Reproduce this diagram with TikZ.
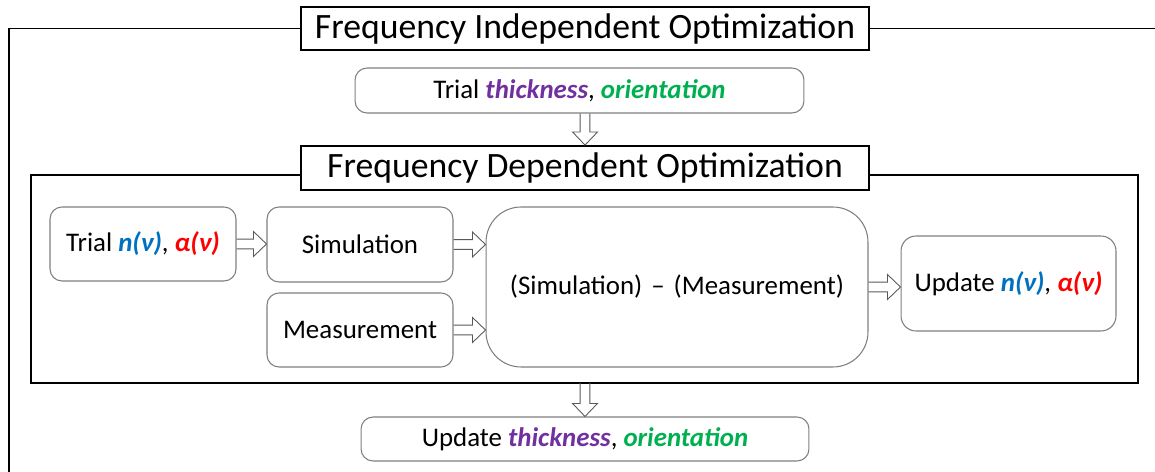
\documentclass[tikz,border=0pt]{standalone}
\usepackage{fontspec}
\setmainfont{Carlito}
\usepackage{xcolor}
\usepackage{tikz}
\usetikzlibrary{calc}

\definecolor{thickcol}{HTML}{7030A0}
\definecolor{oricol}{HTML}{00B050}
\definecolor{ncol}{HTML}{0070C0}
\definecolor{acol}{HTML}{FF0000}
\definecolor{boxgray}{HTML}{7F7F7F}

\newcommand{\thk}{\textcolor{thickcol}{\textbf{\textit{thickness}}}}
\newcommand{\ori}{\textcolor{oricol}{\textbf{\textit{orientation}}}}
\newcommand{\nnu}{\textcolor{ncol}{\textbf{\textit{n(ν)}}}}
\newcommand{\anu}{\textcolor{acol}{\textbf{\textit{α(ν)}}}}

% hollow block arrow from #1 to #2
\newcommand{\fatarrow}[2]{%
  \coordinate (fa-s) at (#1);
  \coordinate (fa-e) at (#2);
  \coordinate (fa-b) at ($(fa-e)!7.4pt!(fa-s)$);
  \draw[hollow] ($(fa-s)!2.8pt!90:(fa-e)$) -- ($(fa-b)!2.8pt!-90:(fa-s)$)
    -- ($(fa-b)!7.1pt!-90:(fa-s)$) -- (fa-e) -- ($(fa-b)!7.1pt!90:(fa-s)$)
    -- ($(fa-b)!2.8pt!90:(fa-s)$) -- ($(fa-s)!2.8pt!-90:(fa-e)$);}

\tikzset{
  title/.style={draw, line width=1.1pt, fill=white, inner sep=0pt, font=\fontsize{20.3}{24}\selectfont},
  stepbox/.style={draw=boxgray, line width=0.6pt, rounded corners=0.24cm, inner sep=0pt, align=center, font=\fontsize{15.3}{18}\selectfont},
  hollow/.style={draw=black!65, line width=0.5pt, line join=miter},
  frame/.style={line width=1.1pt}
}

\begin{document}
\begin{tikzpicture}[x=0.02cm, y=-0.02cm]
    \useasboundingbox (0,0) rectangle (1155,472);

    % outer loop
    \coordinate (out-tl) at (9,28.5);
    \coordinate (out-bl) at (9,472);
    \coordinate (out-tr) at (1155,28.5);
    \node[title, minimum width=11.36cm, minimum height=0.86cm] (fio) at (585,28.5) {Frequency Independent Optimization};
    \draw[frame] (fio.west) -- (out-tl) -- (out-bl);
    \draw[frame] (fio.east) -- (out-tr);

    \node[stepbox, minimum width=8.98cm, minimum height=0.9cm] (trialT) at (579.5,90.5) {Trial \thk, \ori};

    % inner loop
    \coordinate (in-tl) at (31,175);
    \coordinate (in-bl) at (31,383);
    \coordinate (in-br) at (1138,383);
    \coordinate (in-tr) at (1138,175);
    \node[title, minimum width=11.36cm, minimum height=0.88cm] (fdo) at (585,168) {Frequency Dependent Optimization};
    \draw[frame] (fdo.west |- in-tl) -- (in-tl) -- (in-bl) -- (in-br) -- (in-tr) -- (fdo.east |- in-tr);

    \node[stepbox, minimum width=3.72cm, minimum height=1.48cm] (trialN) at (143,244) {Trial \nnu, \anu};
    \node[stepbox, minimum width=3.72cm, minimum height=1.5cm] (sim) at (360,244.5) {Simulation};
    \node[stepbox, minimum width=3.72cm, minimum height=1.48cm] (meas) at (360,330) {Measurement};
    \node[stepbox, minimum width=7.64cm, minimum height=3.2cm, rounded corners=0.7cm] (diff) at (677,287) {(Simulation)\,\,–\,\,(Measurement)};
    \node[stepbox, minimum width=4.3cm, minimum height=1.9cm, rounded corners=0.3cm] (updN) at (1008.5,283.5) {Update \nnu, \anu};

    \node[stepbox, minimum width=8.96cm, minimum height=0.88cm] (updT) at (585,439) {Update \thk, \ori};

    % block arrows
    \fatarrow{trialT.south -| fdo.north}{fdo.north}
    \fatarrow{trialN.east}{trialN.east -| sim.west}
    \fatarrow{sim.east}{sim.east -| diff.west}
    \fatarrow{meas.east}{meas.east -| diff.west}
    \fatarrow{diff.east}{diff.east -| updN.west}
    \fatarrow{updT.north |- in-bl}{updT.north}
\end{tikzpicture}
\end{document}
